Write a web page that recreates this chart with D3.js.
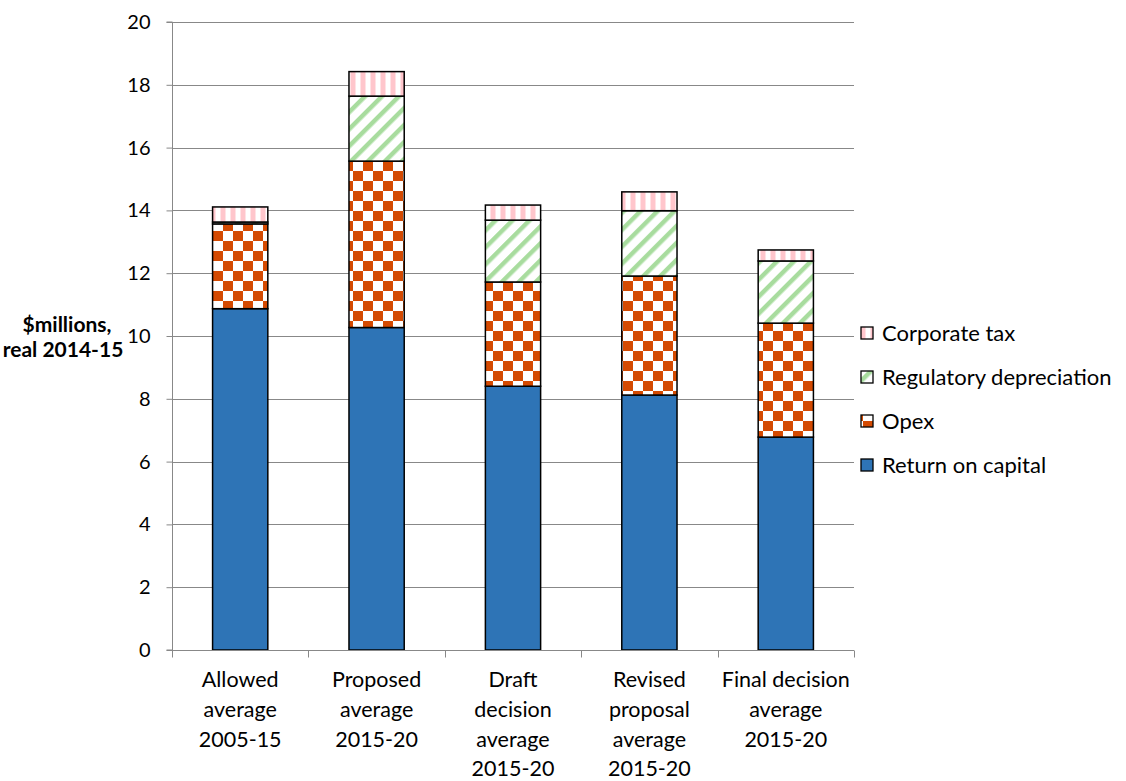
<!DOCTYPE html>
<html>
<head>
<meta charset="utf-8">
<script src="https://cdn.jsdelivr.net/npm/d3@7"></script>
<style>
  html, body { margin: 0; padding: 0; background: #ffffff; }
  svg { display: block; font-family: Lato, "Open Sans", sans-serif; }
</style>
</head>
<body>
<svg id="chart" width="1126" height="781"></svg>
<script>
// Building-block revenue by decision stage ($m, real 2014-15)
const categories = [
  ["Allowed", "average", "2005-15"],
  ["Proposed", "average", "2015-20"],
  ["Draft", "decision", "average", "2015-20"],
  ["Revised", "proposal", "average", "2015-20"],
  ["Final decision", "average", "2015-20"]
];
const returnOnCapital = [10.87, 10.27, 8.40, 8.12, 6.78];
const opex            = [2.70, 5.30, 3.32, 3.79, 3.63];
const regDepreciation = [0.06, 2.07, 1.97, 2.08, 1.98];
const corporateTax    = [0.48, 0.78, 0.48, 0.60, 0.35];
const seriesNames = ["Return on capital", "Opex", "Regulatory depreciation", "Corporate tax"];
const yTicks = [0, 2, 4, 6, 8, 10, 12, 14, 16, 18, 20];

const svg = d3.select("#chart");
const plotLeft = 172, plotRight = 854, plotTop = 22, plotBottom = 650;

// Fill patterns for each series
const defs = svg.append("defs");
const tax = defs.append("pattern").attr("id", "pat-tax")
  .attr("patternUnits", "userSpaceOnUse").attr("width", 10).attr("height", 10);
tax.append("rect").attr("width", 10).attr("height", 10).attr("fill", "#ffffff");
tax.append("rect").attr("x", 1).attr("width", 4).attr("height", 10).attr("fill", "#ffc6cc");
tax.append("rect").attr("x", 0).attr("width", 1).attr("height", 10).attr("fill", "#ffe2e5");
tax.append("rect").attr("x", 5).attr("width", 1).attr("height", 10).attr("fill", "#ffe2e5");

const dep = defs.append("pattern").attr("id", "pat-dep")
  .attr("patternUnits", "userSpaceOnUse").attr("width", 12).attr("height", 12)
  .attr("patternTransform", "rotate(45)");
dep.append("rect").attr("width", 12).attr("height", 12).attr("fill", "#ffffff");
dep.append("rect").attr("x", 0).attr("width", 4).attr("height", 12).attr("fill", "#a8dc9e");
dep.append("rect").attr("x", 4).attr("width", 1).attr("height", 12).attr("fill", "#d3eecf");

const chk = defs.append("pattern").attr("id", "pat-opex")
  .attr("patternUnits", "userSpaceOnUse").attr("width", 20).attr("height", 20)
  .attr("x", 3).attr("y", 1);
chk.append("rect").attr("width", 20).attr("height", 20).attr("fill", "#ffffff");
chk.append("rect").attr("width", 10).attr("height", 10).attr("fill", "#d44a02");
chk.append("rect").attr("x", 10).attr("y", 10).attr("width", 10).attr("height", 10).attr("fill", "#d44a02");

const fills = ["#2e74b6", "url(#pat-opex)", "url(#pat-dep)", "url(#pat-tax)"];

// Scales
const x = d3.scaleBand().domain(d3.range(categories.length)).range([plotLeft, plotRight]).padding(0);
const y = d3.scaleLinear().domain([0, 20]).range([plotBottom, plotTop]);
const barW = x.bandwidth() * 0.405;

// Gridlines
svg.append("g").selectAll("line").data(yTicks.filter(t => t > 0)).join("line")
  .attr("x1", plotLeft).attr("x2", plotRight)
  .attr("y1", d => Math.round(y(d)) + 0.5).attr("y2", d => Math.round(y(d)) + 0.5)
  .attr("stroke", "#888888").attr("stroke-width", 1);

// Stacked bars
const rows = categories.map((c, i) => ({
  i, "Return on capital": returnOnCapital[i], "Opex": opex[i],
  "Regulatory depreciation": regDepreciation[i], "Corporate tax": corporateTax[i]
}));
const stacked = d3.stack().keys(seriesNames)(rows);
stacked.forEach((layer, k) => {
  svg.append("g").selectAll("rect").data(layer).join("rect")
    .attr("x", d => x(d.data.i) + (x.bandwidth() - barW) / 2)
    .attr("width", barW)
    .attr("y", d => y(d[1]))
    .attr("height", d => y(d[0]) - y(d[1]))
    .attr("fill", fills[k])
    .attr("stroke", "#000000").attr("stroke-width", 1.5);
});

// Y axis
const yAxis = d3.axisLeft(y).tickValues(yTicks).tickSize(6).tickPadding(16).tickFormat(d3.format("d"));
const gy = svg.append("g").attr("transform", `translate(${plotLeft + 0.5},0)`).call(yAxis);
gy.select(".domain").attr("stroke", "#888888").attr("d", `M-6,${plotTop}H0V${plotBottom}H-6`);
gy.selectAll(".tick line").attr("stroke", "#888888");
gy.selectAll(".tick text").attr("font-size", 20).attr("fill", "#000000")
  .attr("font-family", "Lato, sans-serif");

// X axis with category boundaries
const xAxisY = plotBottom + 0.5;
svg.append("line").attr("x1", plotLeft).attr("x2", plotRight).attr("y1", xAxisY).attr("y2", xAxisY)
  .attr("stroke", "#888888");
const bounds = d3.range(categories.length + 1).map(i => i < categories.length ? x(i) : plotRight);
svg.append("g").selectAll("line").data(bounds).join("line")
  .attr("x1", d => Math.round(d) + 0.5).attr("x2", d => Math.round(d) + 0.5)
  .attr("y1", xAxisY).attr("y2", xAxisY + 7).attr("stroke", "#888888");

const labels = svg.append("g").attr("font-size", 21.5).attr("fill", "#000000").attr("text-anchor", "middle");
categories.forEach((lines, i) => {
  const t = labels.append("text").attr("x", x(i) + x.bandwidth() / 2).attr("y", 687);
  lines.forEach((ln, j) => t.append("tspan").attr("x", x(i) + x.bandwidth() / 2).attr("dy", j === 0 ? 0 : 29.8).text(ln));
});

// Y axis title
const yt = svg.append("text").attr("font-weight", "bold").attr("font-size", 21)
  .attr("text-anchor", "middle").attr("fill", "#000000");
yt.append("tspan").attr("x", 67).attr("y", 332).text("$millions,");
yt.append("tspan").attr("x", 63).attr("y", 357).text("real 2014-15");

// Legend (top item is the top of the stack)
const legendItems = seriesNames.slice().reverse();
const lg = svg.append("g");
legendItems.forEach((name, j) => {
  const cy = 333 + j * 44;
  lg.append("rect").attr("x", 861).attr("y", cy - 6).attr("width", 12).attr("height", 12)
    .attr("fill", fills[seriesNames.indexOf(name)]).attr("stroke", "#000000").attr("stroke-width", 1.3);
  lg.append("text").attr("x", 882).attr("y", cy).attr("dy", "0.35em")
    .attr("font-size", 22).attr("fill", "#000000").text(name);
});
</script>
</body>
</html>
